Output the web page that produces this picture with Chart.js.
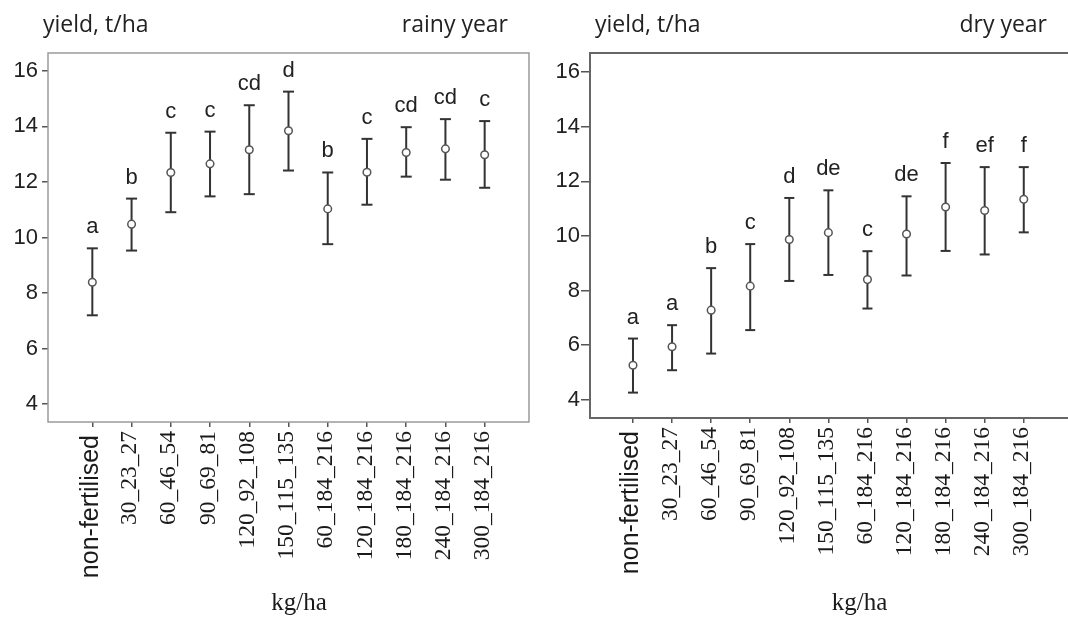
<!DOCTYPE html>
<html>
<head>
<meta charset="utf-8">
<script src="https://cdn.jsdelivr.net/npm/chart.js@4.4.0/dist/chart.umd.min.js"></script>
<style>
  body { margin: 0; width: 1068px; height: 617px; overflow: hidden; background: #fff; position: relative; }
  .panel { position: absolute; top: 0; width: 540px; height: 617px; }
</style>
</head>
<body>
<div class="panel" style="left:0"><canvas id="rainy"></canvas></div>
<div class="panel" style="left:540px"><canvas id="dry"></canvas></div>
<script>
// N_P_K doses, kg/ha
var doses = ['non-fertilised', '30_23_27', '60_46_54', '90_69_81', '120_92_108', '150_115_135',
    '60_184_216', '120_184_216', '180_184_216', '240_184_216', '300_184_216'];
var yTicks = [4, 6, 8, 10, 12, 14, 16];

// rainy year: mean yield and interval bounds, t/ha
var rainyMean = [8.39, 10.48, 12.34, 12.65, 13.16, 13.84, 11.03, 12.35, 13.06, 13.19, 12.98];
var rainyLow = [7.20, 9.53, 10.91, 11.48, 11.56, 12.41, 9.76, 11.18, 12.19, 12.08, 11.79];
var rainyHigh = [9.61, 11.40, 13.77, 13.81, 14.76, 15.25, 12.34, 13.55, 13.97, 14.26, 14.19];
var rainyGroups = ['a', 'b', 'c', 'c', 'cd', 'd', 'b', 'c', 'cd', 'cd', 'c'];

// dry year
var dryMean = [5.26, 5.94, 7.28, 8.16, 9.87, 10.12, 8.40, 10.07, 11.06, 10.93, 11.34];
var dryLow = [4.26, 5.08, 5.69, 6.55, 8.35, 8.57, 7.34, 8.55, 9.45, 9.32, 10.13];
var dryHigh = [6.24, 6.73, 8.82, 9.70, 11.39, 11.67, 9.44, 11.45, 12.67, 12.52, 12.52];
var dryGroups = ['a', 'a', 'b', 'c', 'd', 'de', 'c', 'de', 'f', 'ef', 'f'];

var SANS = '"Liberation Sans", Arial, sans-serif';
var SERIF = '"Liberation Serif", "Times New Roman", serif';


function makePanel(id, mean, low, high, groups, p) {
    var whiskers = [];
    var centres = [];
    for (var i = 0; i < doses.length; i++) {
        whiskers.push({x: i, y: low[i]}, {x: i, y: high[i]}, {x: i, y: null});
        centres.push({x: i, y: mean[i]});
    }

    var decor = {
        id: 'decor',
        beforeDatasetsDraw: function (chart) {
            var a = chart.chartArea, ctx = chart.ctx;
            ctx.save();
            ctx.strokeStyle = p.frame;
            ctx.lineWidth = p.frameWidth;
            ctx.strokeRect(a.left, a.top, a.right - a.left, a.bottom - a.top);
            ctx.restore();
        },
        afterDraw: function (chart) {
            var ctx = chart.ctx;
            var xs = chart.scales.x, ys = chart.scales.y;
            var i;
            ctx.save();
            // significance letters above each interval
            ctx.fillStyle = '#222';
            ctx.font = '22px ' + SANS;
            ctx.textAlign = 'center';
            ctx.textBaseline = 'alphabetic';
            for (i = 0; i < groups.length; i++) {
                ctx.fillText(groups[i], xs.getPixelForValue(i), ys.getPixelForValue(high[i]) - 15);
            }

            // dose labels, read bottom to top, hung from the axis
            ctx.fillStyle = '#1a1a1a';
            ctx.textAlign = 'right';
            ctx.textBaseline = 'middle';
            for (i = 0; i < doses.length; i++) {
                var first = i === 0;
                ctx.save();
                ctx.translate(xs.getPixelForValue(i) - 1.5, xs.top + (first ? 13 : 9));
                ctx.rotate(-Math.PI / 2);
                ctx.font = first ? '25px ' + SANS : '23.5px ' + SERIF;
                ctx.fillText(doses[i], 0, 0);
                ctx.restore();
            }

            ctx.fillStyle = '#222';
            ctx.font = '23px "Open Sans", sans-serif';
            ctx.textAlign = 'left';
            ctx.textBaseline = 'alphabetic';
            ctx.fillText('yield, t/ha', p.yTitleX, 32);
            ctx.textAlign = 'right';
            ctx.fillText(p.season, p.seasonX, 32);
            ctx.fillStyle = '#1a1a1a';
            ctx.font = '25px ' + SERIF;
            ctx.textAlign = 'center';
            ctx.fillText('kg/ha', p.unitX, 610);
            ctx.restore();
        }
    };

    return new Chart(document.getElementById(id), {
        type: 'scatter',
        data: {
            datasets: [
                {
                    type: 'scatter',
                    data: centres,
                    order: 0,
                    pointStyle: 'circle',
                    pointRadius: 3.8,
                    pointBorderWidth: 1.5,
                    pointBorderColor: '#555',
                    pointBackgroundColor: '#fff'
                },
                {
                    type: 'line',
                    data: whiskers,
                    order: 1,
                    spanGaps: false,
                    borderColor: '#333',
                    borderWidth: 2,
                    pointStyle: 'line',
                    pointRadius: p.cap,
                    pointBorderWidth: 2,
                    pointBorderColor: '#333'
                }
            ]
        },
        options: {
            responsive: true,
            maintainAspectRatio: false,
            animation: false,
            events: [],
            layout: {padding: {top: 53, right: p.padRight, bottom: 0, left: 0}},
            plugins: {legend: {display: false}, tooltip: {enabled: false}},
            scales: {
                x: {
                    type: 'linear',
                    min: p.xMin,
                    max: p.xMax,
                    offset: false,
                    afterBuildTicks: function (s) {
                        s.ticks = doses.map(function (d, i) { return {value: i}; });
                    },
                    afterFit: function (s) { s.height = p.xHeight; },
                    ticks: {display: false},
                    grid: {drawOnChartArea: false, tickLength: 5, color: '#555', lineWidth: 1.5},
                    border: {display: false}
                },
                y: {
                    type: 'linear',
                    min: p.yMin,
                    max: p.yMax,
                    afterBuildTicks: function (s) {
                        s.ticks = yTicks.map(function (v) { return {value: v}; });
                    },
                    afterFit: function (s) { s.width = p.yWidth; },
                    ticks: {
                        padding: p.yPad,
                        color: '#222',
                        font: {family: SANS, size: 22}
                    },
                    grid: {drawOnChartArea: false, tickLength: p.yTick, color: '#555', lineWidth: 1.5},
                    border: {display: false}
                }
            }
        },
        plugins: [decor]
    });
}

makePanel('rainy', rainyMean, rainyLow, rainyHigh, rainyGroups, {
    season: 'rainy year', yTitleX: 43, seasonX: 508, unitX: 299,
    xMin: -1.13, xMax: 11.13, yMin: 3.36, yMax: 16.64,
    padRight: 11, yWidth: 48, xHeight: 195, yTick: 6, yPad: 4, cap: 5.5,
    frame: '#9a9a9a', frameWidth: 1.5
});

makePanel('dry', dryMean, dryLow, dryHigh, dryGroups, {
    season: 'dry year', yTitleX: 55, seasonX: 507, unitX: 319.5,
    xMin: -1.10, xMax: 11.26, yMin: 3.33, yMax: 16.70,
    padRight: 2, yWidth: 50, xHeight: 199, yTick: 9, yPad: 1, cap: 5,
    frame: '#666', frameWidth: 2
});
</script>
</body>
</html>
